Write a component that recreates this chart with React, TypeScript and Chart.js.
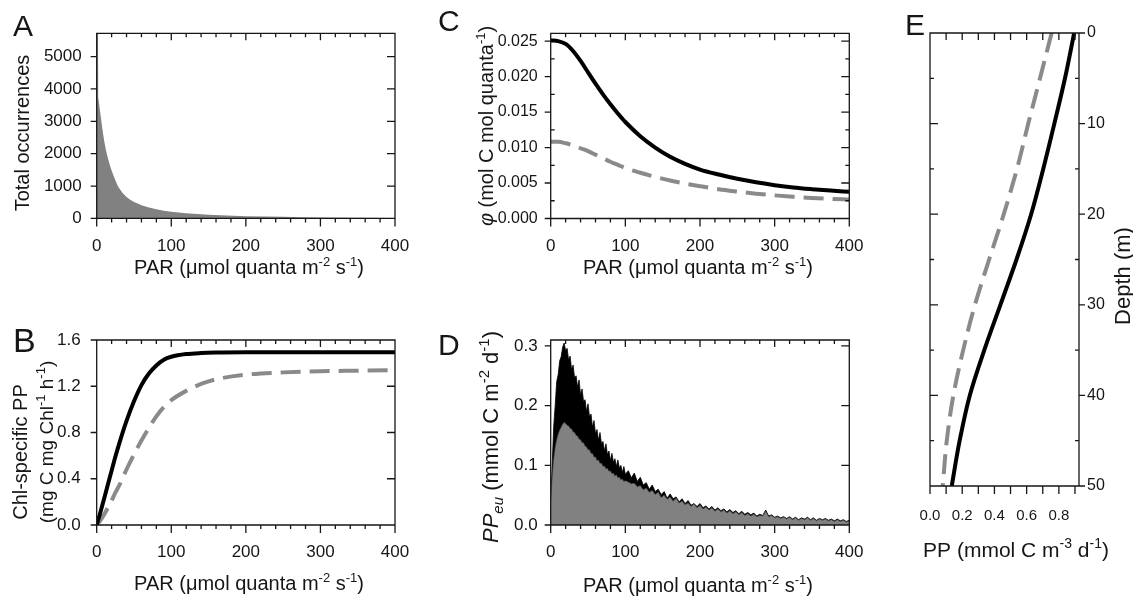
import { useEffect, useRef } from "react";
import { Chart, registerables } from "chart.js";

Chart.register(...registerables);

const W = 1133;
const H = 597;
const FONT = "'Liberation Sans', Arial, sans-serif";
const INK = "#161616";
const GREY = "#8a8a8a";
const FILL = "#818181";

// tick labels
const parTicks = [0, 100, 200, 300, 400];
const aCountTicks = [0, 1000, 2000, 3000, 4000, 5000];
const bTicks = [0, 0.4, 0.8, 1.2, 1.6];
const cTicks = [0, 0.005, 0.01, 0.015, 0.02, 0.025];
const dTicks = [0, 0.1, 0.2, 0.3];
const ePpTicks = [0, 0.2, 0.4, 0.6, 0.8];
const eDepthTicks = [0, 10, 20, 30, 40, 50];

// A: occurrences of each PAR value
const aPar = [0, 1.8, 2, 4, 6, 8, 10, 12, 14, 16, 18, 20, 22, 25, 28, 30, 35, 40, 45, 50, 55, 60, 70, 80, 90, 100, 110, 120, 135, 150, 175, 200, 225, 250, 275, 300, 350, 400];
const aCount = [5700, 5700, 3750, 3400, 3050, 2700, 2400, 2150, 1950, 1780, 1620, 1480, 1360, 1180, 1020, 940, 780, 660, 580, 510, 460, 410, 340, 280, 240, 205, 180, 160, 135, 115, 90, 70, 58, 48, 38, 30, 20, 14];

// B: Chl-specific PP vs PAR
const bPar = [0, 5, 10, 15, 20, 25, 30, 40, 50, 60, 70, 80, 90, 100, 120, 140, 160, 200, 250, 300, 350, 400];
const bSolid = [0, 0.11, 0.23, 0.35, 0.47, 0.59, 0.7, 0.9, 1.07, 1.21, 1.31, 1.38, 1.43, 1.455, 1.478, 1.487, 1.491, 1.493, 1.493, 1.493, 1.493, 1.493];
const bDashed = [0, 0.04, 0.09, 0.15, 0.21, 0.28, 0.34, 0.48, 0.61, 0.73, 0.84, 0.94, 1.02, 1.08, 1.16, 1.22, 1.26, 1.3, 1.32, 1.33, 1.335, 1.34];

// C: quantum yield vs PAR
const cPar = [0, 10, 20, 30, 40, 50, 60, 70, 80, 90, 100, 120, 140, 160, 180, 200, 225, 250, 275, 300, 325, 350, 375, 400];
const cSolid = [0.0251, 0.025, 0.0246, 0.0236, 0.0222, 0.0206, 0.019, 0.0175, 0.0161, 0.0148, 0.0136, 0.0116, 0.01, 0.0087, 0.0077, 0.0069, 0.0062, 0.0056, 0.0051, 0.0047, 0.00437, 0.00413, 0.00393, 0.00376];
const cDashed = [0.0108, 0.0108, 0.0106, 0.0103, 0.0099, 0.0095, 0.009, 0.0085, 0.008, 0.00755, 0.0071, 0.00645, 0.00587, 0.00535, 0.00492, 0.00455, 0.00413, 0.0038, 0.0035, 0.00326, 0.00306, 0.0029, 0.00277, 0.00266];

// D: PPeu per PAR bin (total in black, part in grey)
const dPar = [
  0, 2, 4, 6, 8, 10, 12, 14, 16, 18, 20, 22, 24, 26, 28, 30, 32, 34, 36, 38, 40, 42, 44, 46, 48, 50,
  52, 54, 56, 58, 60, 62, 64, 66, 68, 70, 72, 74, 76, 78, 80, 82, 84, 86, 88, 90, 92, 94, 96, 98, 100,
  104, 108, 112, 116, 120, 124, 128, 132, 136, 140, 144, 148, 152, 156, 160, 164, 168, 172, 176, 180,
  184, 188, 192, 196, 200, 204, 208, 212, 216, 220, 224, 228, 232, 236, 240, 244, 248, 252, 256, 260,
  264, 268, 272, 276, 280, 284, 288, 292, 296, 300, 304, 308, 312, 316, 320, 324, 328, 332, 336, 340,
  344, 348, 352, 356, 360, 364, 368, 372, 376, 380, 384, 388, 392, 396, 400,
];
const dTotal = [
  0.04, 0.1, 0.165, 0.2, 0.24, 0.252, 0.275, 0.282, 0.298, 0.305,
  0.292, 0.296, 0.276, 0.283, 0.26, 0.268, 0.246, 0.25, 0.231, 0.243,
  0.218, 0.228, 0.207, 0.21, 0.19, 0.203, 0.181, 0.186, 0.164, 0.175,
  0.153, 0.16, 0.142, 0.155, 0.136, 0.14, 0.124, 0.136, 0.118, 0.124,
  0.108, 0.12, 0.105, 0.111, 0.098, 0.109, 0.095, 0.1, 0.088, 0.098,
  0.085,
  0.091, 0.079, 0.087, 0.073, 0.08, 0.067, 0.071, 0.06, 0.067, 0.056,
  0.06, 0.051, 0.056, 0.045, 0.052, 0.044, 0.047, 0.039, 0.044, 0.036,
  0.041, 0.033, 0.036, 0.031, 0.036, 0.029, 0.032, 0.027, 0.031, 0.025,
  0.029, 0.024, 0.027, 0.022, 0.026, 0.021, 0.024, 0.019, 0.023, 0.018,
  0.021, 0.017, 0.02, 0.015, 0.018, 0.016, 0.025, 0.015, 0.017, 0.013,
  0.015, 0.012, 0.014, 0.011, 0.014, 0.01, 0.013, 0.009, 0.012, 0.01,
  0.013, 0.009, 0.012, 0.008, 0.011, 0.009, 0.011, 0.008, 0.01, 0.007,
  0.01, 0.007, 0.009, 0.006, 0.008,
];
const dPart = [
  0.04, 0.08, 0.11, 0.13, 0.143, 0.152, 0.159, 0.164, 0.169, 0.172,
  0.17, 0.167, 0.166, 0.162, 0.161, 0.156, 0.155, 0.15, 0.149, 0.144,
  0.143, 0.138, 0.138, 0.132, 0.131, 0.126, 0.126, 0.12, 0.12, 0.114,
  0.114, 0.108, 0.109, 0.103, 0.104, 0.098, 0.099, 0.094, 0.095, 0.09,
  0.091, 0.086, 0.087, 0.082, 0.084, 0.079, 0.08, 0.076, 0.077, 0.073,
  0.074,
  0.072, 0.069, 0.07, 0.064, 0.066, 0.059, 0.062, 0.055, 0.058, 0.051,
  0.055, 0.046, 0.05, 0.043, 0.047, 0.04, 0.045, 0.037, 0.04, 0.034,
  0.037, 0.031, 0.035, 0.029, 0.033, 0.027, 0.03, 0.025, 0.029, 0.023,
  0.027, 0.022, 0.025, 0.02, 0.024, 0.019, 0.022, 0.017, 0.021, 0.016,
  0.019, 0.015, 0.018, 0.014, 0.016, 0.015, 0.023, 0.014, 0.016, 0.012,
  0.014, 0.011, 0.013, 0.01, 0.013, 0.009, 0.012, 0.008, 0.011, 0.009,
  0.012, 0.008, 0.011, 0.007, 0.01, 0.008, 0.01, 0.007, 0.009, 0.006,
  0.009, 0.006, 0.008, 0.005, 0.007,
];

// E: PP profile with depth
const eDepth = [0, 5, 10, 15, 20, 25, 30, 35, 40, 45, 50];
const eSolid = [0.895, 0.838, 0.772, 0.703, 0.628, 0.537, 0.437, 0.337, 0.247, 0.184, 0.135];
const eDashed = [0.755, 0.683, 0.61, 0.54, 0.458, 0.367, 0.279, 0.206, 0.145, 0.104, 0.079];

type Box = { l: number; t: number; r: number; b: number };
type Seg = [string, string?];
type Words = { x: number; y: number; size: number; segs: Seg[]; rot?: boolean; left?: boolean };
type FrameOpts = { xMinor: number; xMajor: number; yMinor: number; yMajor: number; side: "left" | "right" };

const pts = (xs: number[], ys: number[]) => xs.map((x, i) => ({ x, y: ys[i] }));

function drawWords(ctx: CanvasRenderingContext2D, w: Words) {
  const fontOf = (k: string) => {
    const small = k === "sup" || k === "sub" || k === "itsub";
    const italic = k === "it" || k === "itsub";
    return `${italic ? "italic " : ""}${small ? Math.round(w.size * 0.66) : w.size}px ${FONT}`;
  };
  const parts = w.segs.map(([t, k = "n"]) => {
    ctx.font = fontOf(k);
    return { t, k, wd: ctx.measureText(t).width };
  });
  const total = parts.reduce((s, p) => s + p.wd, 0);
  ctx.save();
  ctx.translate(w.x, w.y);
  if (w.rot) ctx.rotate(-Math.PI / 2);
  ctx.fillStyle = INK;
  ctx.textBaseline = "alphabetic";
  let x = w.left ? 0 : -total / 2;
  const base = w.size * 0.36;
  for (const p of parts) {
    ctx.font = fontOf(p.k);
    const dy = p.k === "sup" ? -w.size * 0.4 : p.k === "sub" || p.k === "itsub" ? w.size * 0.22 : 0;
    ctx.fillText(p.t, x, base + dy);
    x += p.wd;
  }
  ctx.restore();
}

const wordsPlugin = (items: Words[]) => ({
  id: "words",
  afterDraw(chart: any) {
    for (const it of items) drawWords(chart.ctx, it);
  },
});

const framePlugin = (o: FrameOpts) => ({
  id: "frame",
  afterDatasetsDraw(chart: any) {
    const { ctx, chartArea: a } = chart;
    const xs = chart.scales.x;
    const ys = chart.scales.y;
    const major = (v: number, step: number) => Math.abs(v / step - Math.round(v / step)) < 1e-6;
    ctx.save();
    ctx.strokeStyle = INK;
    ctx.lineWidth = 1.3;
    ctx.beginPath();
    ctx.rect(a.left, a.top, a.right - a.left, a.bottom - a.top);
    const seg = (x1: number, y1: number, x2: number, y2: number) => {
      ctx.moveTo(x1, y1);
      ctx.lineTo(x2, y2);
    };
    const nx = Math.floor((xs.max - xs.min) / o.xMinor + 1e-6);
    for (let i = 0; i <= nx; i++) {
      const v = xs.min + i * o.xMinor;
      const p = xs.getPixelForValue(v);
      const m = major(v, o.xMajor);
      seg(p, a.bottom, p, a.bottom + (m ? 8 : 4));
      seg(p, a.top, p, a.top + (m ? 7 : 4));
    }
    const ny = Math.floor((ys.max - ys.min) / o.yMinor + 1e-6);
    const left = o.side === "left";
    const lx = left ? a.left : a.right;
    const ox = left ? a.right : a.left;
    const dir = left ? -1 : 1;
    for (let i = 0; i <= ny; i++) {
      const v = ys.min + i * o.yMinor;
      const p = ys.getPixelForValue(v);
      const m = major(v, o.yMajor);
      if (m) seg(lx, p, lx + dir * 6, p);
      else seg(lx, p, lx - dir * 4, p);
      seg(ox, p, ox + dir * (m ? 8 : 4), p);
    }
    ctx.stroke();
    ctx.restore();
  },
});

const tickFont = (size: number) => ({ family: FONT, size });

function xAxis(min: number, max: number, vals: number[], fmt: (v: number) => string, pad: number, size = 17) {
  return {
    type: "linear",
    position: "bottom",
    min,
    max,
    grid: { display: false, drawTicks: false },
    border: { display: false },
    ticks: { padding: pad, autoSkip: false, maxRotation: 0, font: tickFont(size), color: INK, callback: (v: any) => fmt(Number(v)) },
    afterBuildTicks: (s: any) => {
      s.ticks = vals.map((value) => ({ value }));
    },
    afterFit: (s: any) => {
      s.height = 40;
    },
  };
}

function yAxis(min: number, max: number, vals: number[], fmt: (v: number) => string, pad: number, side: "left" | "right" = "left", size = 17, reverse = false) {
  return {
    type: "linear",
    position: side,
    min,
    max,
    reverse,
    grid: { display: false, drawTicks: false },
    border: { display: false },
    ticks: { padding: pad, autoSkip: false, font: tickFont(size), color: INK, callback: (v: any) => fmt(Number(v)) },
    afterBuildTicks: (s: any) => {
      s.ticks = vals.map((value) => ({ value }));
    },
    afterFit: (s: any) => {
      s.width = side === "left" ? 60 : 40;
    },
  };
}

function baseOptions(box: Box, yRight = false) {
  return {
    responsive: false,
    animation: false,
    events: [],
    devicePixelRatio: window.devicePixelRatio || 1,
    layout: {
      padding: {
        left: yRight ? box.l : box.l - 60,
        top: box.t,
        right: yRight ? W - box.r - 40 : W - box.r,
        bottom: H - box.b - 40,
      },
    },
    plugins: { legend: { display: false }, tooltip: { enabled: false } },
  };
}

const solid = (data: any[]) => ({
  data,
  borderColor: "#000",
  borderWidth: 4,
  pointRadius: 0,
  cubicInterpolationMode: "monotone",
  fill: false,
});
const dashed = (data: any[]) => ({ ...solid(data), borderColor: GREY, borderDash: [20, 9] });

const int = (v: number) => String(Math.round(v));
const fix = (n: number) => (v: number) => v.toFixed(n);

const parTitle = (x: number, y: number): Words => ({
  x,
  y,
  size: 20,
  segs: [["PAR (μmol quanta m"], ["-2", "sup"], [" s"], ["-1", "sup"], [")"]],
});

const boxA: Box = { l: 96.7, t: 33.3, r: 395, b: 218.4 };
const boxB: Box = { l: 96.7, t: 340, r: 395, b: 525 };
const boxC: Box = { l: 550.7, t: 33.3, r: 849.3, b: 218.5 };
const boxD: Box = { l: 550.7, t: 340, r: 849.3, b: 525 };
const boxE: Box = { l: 930, t: 33, r: 1079, b: 486 };

function configA() {
  return {
    type: "line",
    data: {
      datasets: [
        { data: pts(aPar, aCount), borderWidth: 0, borderColor: "rgba(0,0,0,0)", backgroundColor: FILL, fill: "origin", pointRadius: 0, tension: 0 },
      ],
    },
    options: {
      ...baseOptions(boxA),
      scales: { x: xAxis(0, 400, parTicks, int, 18), y: yAxis(0, 5720, aCountTicks, int, 15) },
    },
    plugins: [
      framePlugin({ xMinor: 20, xMajor: 100, yMinor: 1000, yMajor: 1000, side: "left" }),
      wordsPlugin([
        { x: 13, y: 25, size: 30, left: true, segs: [["A"]] },
        parTitle(249, 267),
        { x: 22, y: 133, size: 20, rot: true, segs: [["Total occurrences"]] },
      ]),
    ],
  };
}

function configB() {
  return {
    type: "line",
    data: { datasets: [solid(pts(bPar, bSolid)), dashed(pts(bPar, bDashed))] },
    options: {
      ...baseOptions(boxB),
      scales: { x: xAxis(0, 400, parTicks, int, 17), y: yAxis(0, 1.6, bTicks, fix(1), 16) },
    },
    plugins: [
      framePlugin({ xMinor: 20, xMajor: 100, yMinor: 0.4, yMajor: 0.4, side: "left" }),
      wordsPlugin([
        { x: 13, y: 340, size: 34, left: true, segs: [["B"]] },
        parTitle(249, 583),
        { x: 20, y: 452, size: 20, rot: true, segs: [["Chl-specific PP"]] },
        { x: 46, y: 442, size: 19, rot: true, segs: [["(mg C mg Chl"], ["-1", "sup"], [" h"], ["-1", "sup"], [")"]] },
      ]),
    ],
  };
}

function configC() {
  return {
    type: "line",
    data: { datasets: [solid(pts(cPar, cSolid)), dashed(pts(cPar, cDashed))] },
    options: {
      ...baseOptions(boxC),
      scales: { x: xAxis(0, 400, parTicks, int, 18), y: yAxis(0, 0.0261, cTicks, fix(3), 13, "left", 16) },
    },
    plugins: [
      framePlugin({ xMinor: 20, xMajor: 100, yMinor: 0.0025, yMajor: 0.005, side: "left" }),
      wordsPlugin([
        { x: 438, y: 20.5, size: 30, left: true, segs: [["C"]] },
        parTitle(698, 267),
        { x: 486, y: 126, size: 20, rot: true, segs: [["φ", "it"], [" (mol C mol quanta"], ["-1", "sup"], [")"]] },
      ]),
    ],
  };
}

function configD() {
  return {
    type: "line",
    data: {
      datasets: [
        { data: pts(dPar, dPart), borderColor: "#4a4a4a", borderWidth: 0.6, backgroundColor: FILL, fill: "origin", pointRadius: 0, tension: 0, order: 0 },
        { data: pts(dPar, dTotal), borderColor: "#000", borderWidth: 0.8, backgroundColor: "#000", fill: "origin", pointRadius: 0, tension: 0, order: 1 },
      ],
    },
    options: {
      ...baseOptions(boxD),
      scales: { x: xAxis(0, 400, parTicks, int, 17), y: yAxis(0, 0.31, dTicks, fix(1), 13) },
    },
    plugins: [
      framePlugin({ xMinor: 20, xMajor: 100, yMinor: 0.1, yMajor: 0.1, side: "left" }),
      wordsPlugin([
        { x: 438, y: 344, size: 30, left: true, segs: [["D"]] },
        parTitle(698, 585),
        {
          x: 490,
          y: 437,
          size: 22,
          rot: true,
          segs: [["PP", "it"], ["eu", "itsub"], [" (mmol C m"], ["-2", "sup"], [" d"], ["-1", "sup"], [")"]],
        },
      ]),
    ],
  };
}

function configE() {
  return {
    type: "line",
    data: { datasets: [solid(pts(eSolid, eDepth)), dashed(pts(eDashed, eDepth))] },
    options: {
      ...baseOptions(boxE, true),
      indexAxis: "y",
      scales: {
        x: xAxis(0, 0.925, ePpTicks, fix(1), 21, 15),
        y: yAxis(0, 50, eDepthTicks, int, 8, "right", 16, true),
      },
    },
    plugins: [
      framePlugin({ xMinor: 0.1, xMajor: 0.1, yMinor: 5, yMajor: 10, side: "right" }),
      wordsPlugin([
        { x: 905, y: 24, size: 30, left: true, segs: [["E"]] },
        { x: 1016, y: 549, size: 21, segs: [["PP (mmol C m"], ["-3", "sup"], [" d"], ["-1", "sup"], [")"]] },
        { x: 1122, y: 276, size: 22, rot: true, segs: [["Depth (m)"]] },
      ]),
    ],
  };
}

function Panel({ build }: { build: () => any }) {
  const ref = useRef<HTMLCanvasElement>(null);
  useEffect(() => {
    const chart = new Chart(ref.current as HTMLCanvasElement, build());
    return () => {
      chart.destroy();
    };
  }, []);
  return <canvas ref={ref} width={W} height={H} style={{ position: "absolute", left: 0, top: 0, width: W, height: H }} />;
}

export default function App() {
  return (
    <div style={{ position: "fixed", left: 0, top: 0, width: W, height: H, background: "#fff", overflow: "hidden" }}>
      <Panel build={configA} />
      <Panel build={configB} />
      <Panel build={configC} />
      <Panel build={configD} />
      <Panel build={configE} />
    </div>
  );
}
